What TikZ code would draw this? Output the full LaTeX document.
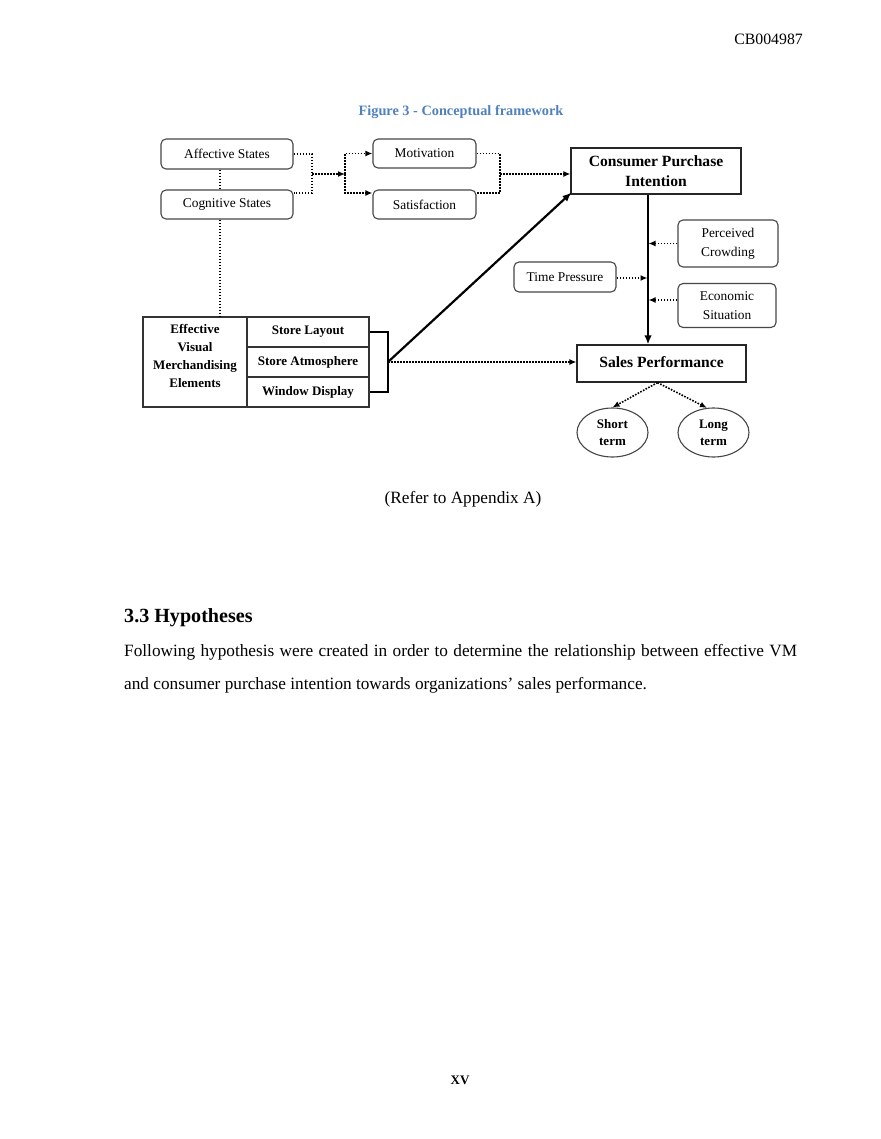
\documentclass[tikz,border=0pt]{standalone}
\usepackage{fontspec}
\setmainfont{Liberation Serif}
\usetikzlibrary{arrows.meta,shapes.geometric,calc}
\definecolor{titleblue}{RGB}{79,129,189}
\definecolor{edgegray}{RGB}{70,70,70}
\begin{document}
\begin{tikzpicture}[x=1pt,y=-1pt,
 rbox/.style={draw=edgegray, line width=1.1pt, rounded corners=5pt, inner sep=0pt, align=center, font=\fontsize{13.4}{19}\selectfont},
 sbox/.style={draw=black!85, line width=1.2pt, inner sep=0pt, align=center, font=\bfseries\fontsize{15.6}{20}\selectfont},
 cell/.style={draw=black!80, line width=1.1pt, inner sep=0pt, minimum width=122pt, minimum height=30pt, font=\bfseries\fontsize{13}{17}\selectfont},
 oval/.style={ellipse, draw=edgegray, line width=1.1pt, inner sep=0pt, minimum width=71pt, minimum height=49pt, align=center, font=\bfseries\fontsize{13}{17}\selectfont},
 dotline/.style={line width=1.6pt, dash pattern=on 1.6pt off 1.4pt},
 dotarrow/.style={dotline, -{Latex[length=7pt,width=6pt]}},
 boldline/.style={line width=2.2pt},
 boldarrow/.style={line width=2.2pt, -{Latex[length=9pt,width=7.5pt]}},
 pagetext/.style={font=\fontsize{17.25}{20}\selectfont, inner sep=0pt}
]
\useasboundingbox[fill=white] (0,0) rectangle (880,1139);

% page text
\node[anchor=base east, inner sep=0pt, font=\fontsize{15.8}{18}\selectfont] (hdr) at (803,45) {CB004987};
\node[anchor=base, inner sep=0pt, text=titleblue, font=\bfseries\fontsize{14.3}{17}\selectfont] (title) at (461,116) {Figure 3 - Conceptual framework};
\node[pagetext, anchor=base] (refer) at (463,503) {(Refer to Appendix A)};
\node[anchor=base west, inner sep=0pt, font=\bfseries\fontsize{20.1}{24}\selectfont] (head) at (124,622) {3.3 Hypotheses};
\node[pagetext, anchor=base west] (par1) at (124,656) {\makebox[673pt][s]{Following hypothesis were created in order to determine the relationship between effective VM}};
\node[pagetext, anchor=base west] (par2) at (124,689) {and consumer purchase intention towards organizations’ sales performance.};
\node[anchor=base, inner sep=0pt, font=\bfseries\fontsize{13}{15}\selectfont] (pnum) at (460,1084) {XV};

% diagram boxes
\node[rbox, minimum width=132pt, minimum height=30pt] (aff) at (227,154) {Affective States};
\node[rbox, minimum width=132pt, minimum height=29pt] (cog) at (227,204.5) {Cognitive States};
\node[rbox, minimum width=103pt, minimum height=29pt] (mot) at (424.5,153.5) {Motivation};
\node[rbox, minimum width=103pt, minimum height=29pt] (sat) at (424.5,204.5) {Satisfaction};
\node[sbox, minimum width=170pt, minimum height=46pt] (cpi) at (656,171) {Consumer Purchase\\Intention};
\node[rbox, minimum width=100pt, minimum height=47pt] (pc) at (728,243.5) {Perceived\\Crowding};
\node[rbox, minimum width=102pt, minimum height=30pt] (tp) at (565,277) {Time Pressure};
\node[rbox, minimum width=98pt, minimum height=44pt] (es) at (727,305.5) {Economic\\Situation};
\node[sbox, minimum width=169pt, minimum height=37pt] (sp) at (661.5,363.5) {\raisebox{2pt}{Sales Performance}};
\node[oval] (short) at (612.5,432.5) {Short\\term};
\node[oval] (long) at (713.5,432.5) {Long\\term};

% effective VM block
\node[draw=black!80, line width=1.1pt, minimum width=104pt, minimum height=90pt, inner sep=0pt] (eff) at (195,362) {};
\node[align=center, inner sep=0pt, font=\bfseries\fontsize{13}{17.7}\selectfont] (efftext) at (195,356) {Effective\\Visual\\Merchandising\\Elements};
\node[cell] (sl) at (308,332) {\raisebox{4pt}{Store Layout}};
\node[cell] (sa) at (308,362) {\raisebox{3pt}{Store Atmosphere}};
\node[cell] (wd) at (308,392) {\raisebox{3pt}{Window Display}};

% coordinates
\coordinate (b1) at (312,174);
\coordinate (b2) at (345,174);
\coordinate (b3) at (500,174);
\coordinate (b4) at (388,362);
\coordinate (vl) at ([xshift=-8pt]cpi.south);

% left dotted links
\draw[dotline] ([xshift=-7pt]aff.south) -- ([xshift=-7pt]cog.north);
\draw[dotline] ([xshift=-7pt]cog.south) -- ([xshift=-7pt]cog.south |- eff.north);
\draw[dotline] (aff.east) -| (b1) |- ([yshift=11.5pt]cog.east);
\draw[dotarrow] (b1) -- (b2);
\draw[dotarrow] (b2) |- (mot.west);
\draw[dotarrow] (b2) |- ([yshift=11.5pt]sat.west);
\draw[dotline] (mot.east) -| (b3) |- ([yshift=11.5pt]sat.east);
\draw[dotarrow] (b3) -- (b3 -| cpi.west);

% CPI to sales performance
\draw[boldarrow] (vl) -- (vl |- sp.north);
\draw[dotarrow, shorten >=0.5pt] (pc.west) -- (pc.west -| vl);
\draw[dotarrow, shorten >=0.5pt] ([yshift=-1pt]tp.east) -- ([yshift=-1pt]tp.east -| vl);
\draw[dotarrow, shorten >=0.5pt] ([yshift=5.5pt]es.west) -- ([yshift=5.5pt]es.west -| vl);

% VM bracket
\draw[boldline] (sl.east) -| (b4) |- (wd.east);
\draw[boldarrow] (b4) -- ([xshift=1pt,yshift=2pt]cpi.south west);
\draw[dotarrow] (b4) -- (b4 -| sp.west);

% sales performance to terms
\draw[dotarrow] ([xshift=-4pt]sp.south) -- (short.north);
\draw[dotarrow] ([xshift=-4pt]sp.south) -- (long.105);
\end{tikzpicture}
\end{document}
